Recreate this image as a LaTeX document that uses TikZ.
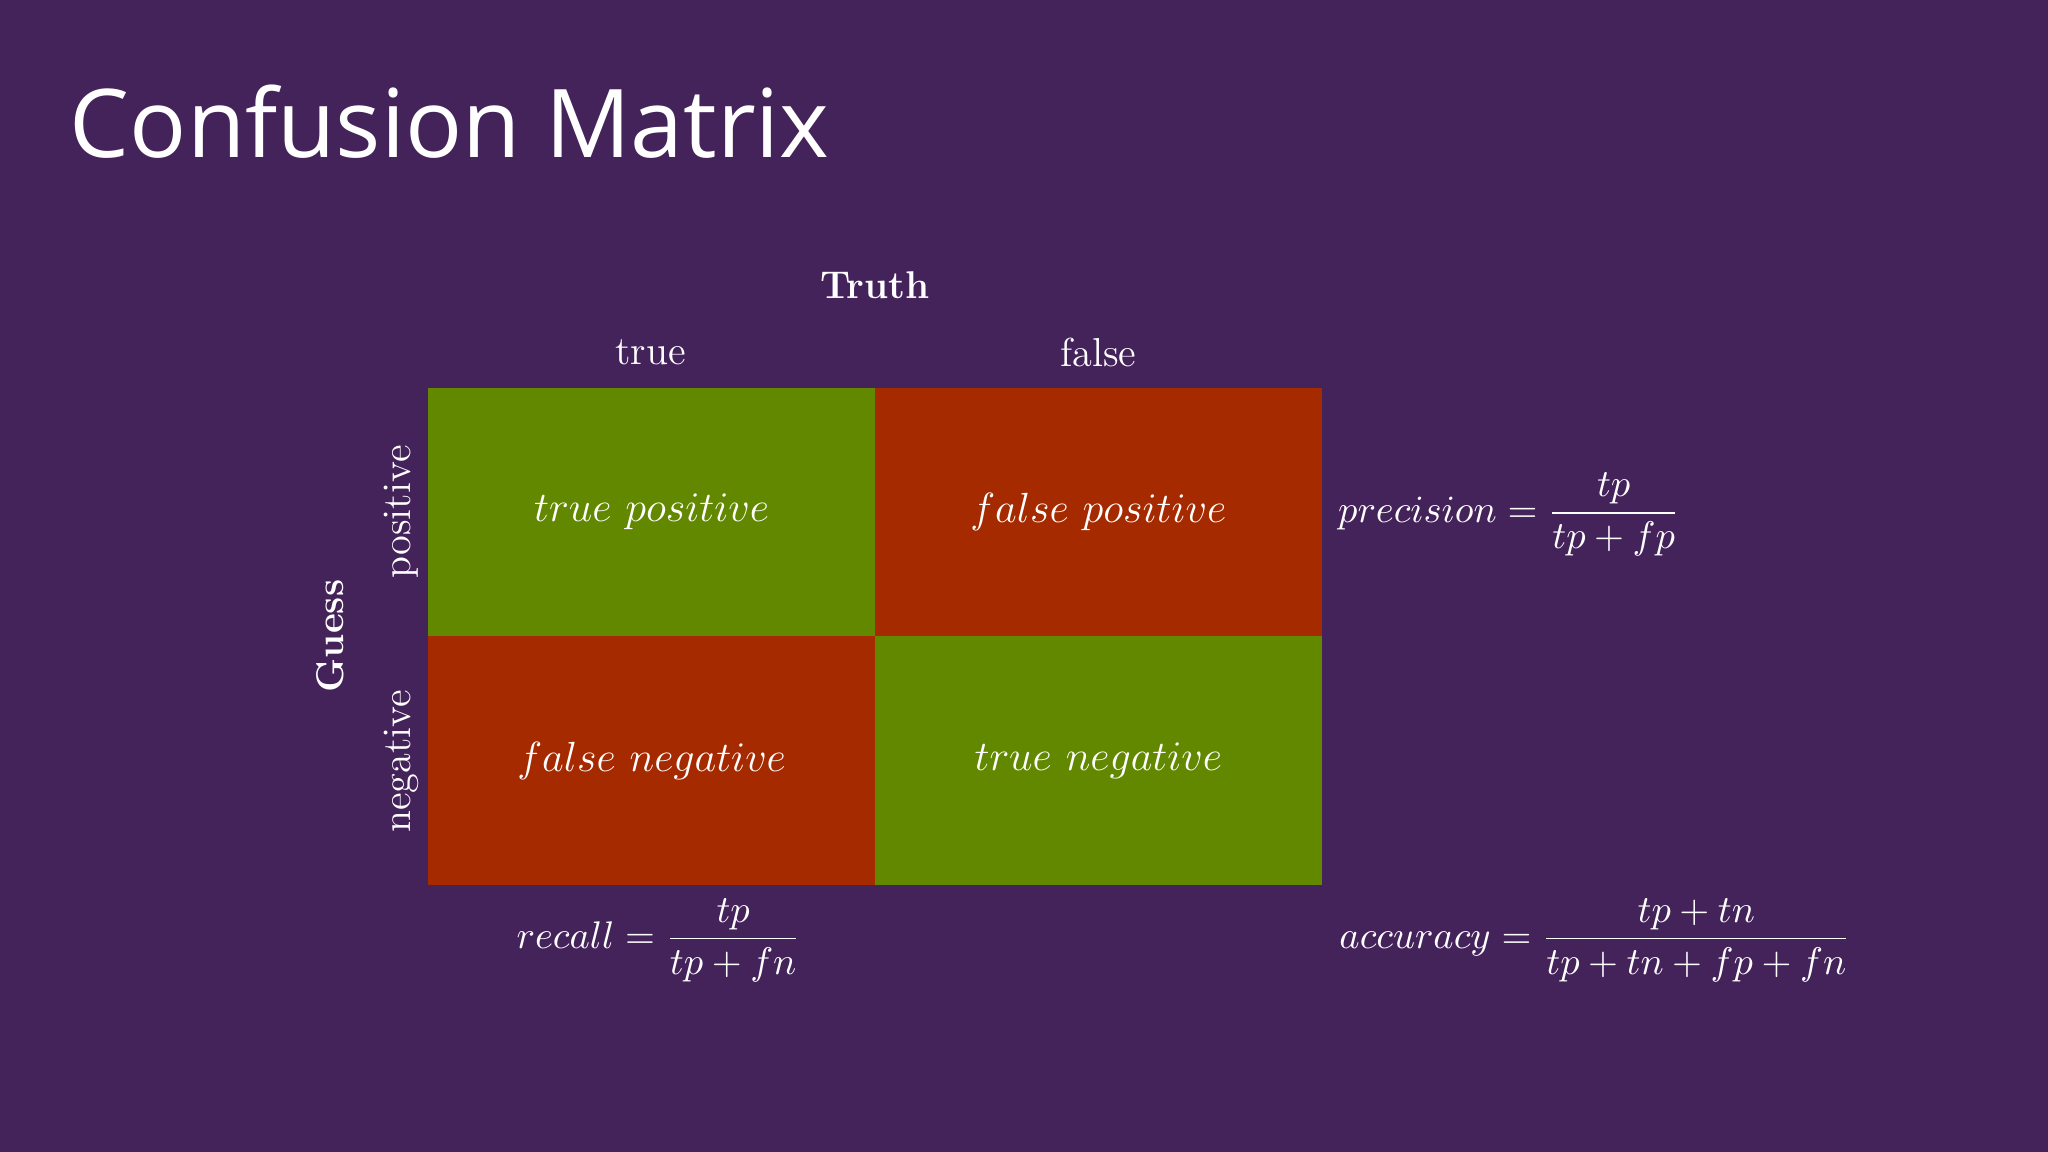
\documentclass[tikz,border=0pt]{standalone}
\usepackage{amsmath}
\usepackage{fontspec}
\newfontfamily\titlefont{Open Sans}
\begin{document}
\begin{tikzpicture}[x=0.013061cm,y=-0.013061cm,
  cell/.style={minimum width=342*0.013061cm,minimum height=190.5*0.013061cm,inner sep=0pt,draw=none,text=white,font=\fontsize{12.2}{15}\selectfont},
  lab/.style={text=white,font=\fontsize{11.5}{14}\selectfont,inner sep=0pt},
  formula/.style={text=white,font=\fontsize{11.3}{14}\selectfont,inner sep=0pt}]
\definecolor{bg}{RGB}{68,34,90}
\definecolor{cgreen}{RGB}{98,136,0}
\definecolor{cred}{RGB}{165,42,0}
\useasboundingbox[fill=bg] (0,0) rectangle (1568,882);
\node[anchor=west,text=white,inner sep=0pt,font=\titlefont\fontsize{27}{32}\selectfont] (title) at (53,93) {Confusion Matrix};
\node[cell,fill=cgreen] (tp) at (499,392) {$true\ positive$};
\node[cell,fill=cred] (fp) at (841,392) {$false\ positive$};
\node[cell,fill=cred] (fn) at (499,582.5) {$false\ negative$};
\node[cell,fill=cgreen] (tn) at (841,582.5) {$true\ negative$};
\node[lab,font=\bfseries\fontsize{11}{14}\selectfont] (truth) at (670,218) {Truth};
\node[lab] (ctrue) at (498,270) {true};
\node[lab] (cfalse) at (841,270) {false};
\node[lab,rotate=90] (rpos) at (307,392) {positive};
\node[lab,rotate=90] (rneg) at (307,583) {negative};
\node[lab,rotate=90,font=\bfseries\fontsize{11}{14}\selectfont] (guess) at (253,487) {Guess};
\node[formula,anchor=west] (prec) at (1024,394) {$precision=\dfrac{tp}{tp+fp}$};
\node[formula,anchor=west] (rec) at (395,720) {$recall=\dfrac{tp}{tp+fn}$};
\node[formula,anchor=west] (acc) at (1025,720) {$accuracy=\dfrac{tp+tn}{tp+tn+fp+fn}$};
\end{tikzpicture}
\end{document}
